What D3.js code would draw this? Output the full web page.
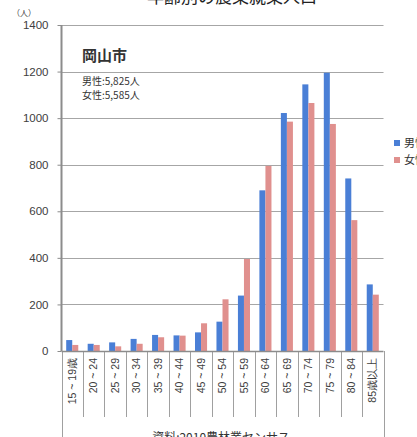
<!DOCTYPE html>
<html>
<head>
<meta charset="utf-8">
<script src="https://cdn.jsdelivr.net/npm/d3@7"></script>
<style>
  body { margin: 0; background: #fff; }
  svg { display: block; font-family: "Noto Sans CJK JP", "Noto Sans", sans-serif; }
</style>
</head>
<body>
<div class="chart"></div>
<script>
// age groups and counts (persons)
var ageGroups = ["15 ~ 19歳", "20 ~ 24", "25 ~ 29", "30 ~ 34", "35 ~ 39", "40 ~ 44", "45 ~ 49",
  "50 ~ 54", "55 ~ 59", "60 ~ 64", "65 ~ 69", "70 ~ 74", "75 ~ 79", "80 ~ 84", "85歳以上"];
var seriesNames = ["男性", "女性"];
var maleValues = [47, 31, 37, 52, 69, 67, 80, 126, 238, 690, 1022, 1145, 1195, 741, 286];
var femaleValues = [26, 26, 20, 31, 59, 66, 119, 222, 395, 795, 985, 1065, 975, 562, 242];
var yTicks = [0, 200, 400, 600, 800, 1000, 1200, 1400];
var colors = ["#4a7fd6", "#e0908e"];

var svgWidth = 417;
var svgHeight = 437;

var margin = { top: 25, left: 61.5, right: 33.5, bottom: 86 };
var plotRight = svgWidth - margin.right;
var plotBottom = svgHeight - margin.bottom;

var svg = d3.select(".chart")
  .append("svg")
  .attr("width", svgWidth)
  .attr("height", svgHeight);

var x = d3.scaleBand()
  .domain(ageGroups)
  .range([margin.left, plotRight])
  .padding(0);

var inner = 4.7;
var x1 = d3.scaleBand()
  .domain(seriesNames)
  .range([inner, x.bandwidth() - inner])
  .padding(0);

var y = d3.scaleLinear()
  .domain([0, 1400])
  .range([plotBottom, margin.top]);

// gridlines + y axis
var leftAxis = d3.axisLeft(y)
  .tickValues(yTicks)
  .tickFormat(d3.format("d"))
  .tickSize(4)
  .tickPadding(9);

var yAxis = svg.append("g")
  .attr("transform", `translate(${margin.left}, 0)`)
  .call(leftAxis);
yAxis.select(".domain").remove();
yAxis.selectAll(".tick line").attr("stroke", "#8c8c8c");
yAxis.selectAll(".tick text")
  .attr("fill", "#404040")
  .style("font-family", "'Liberation Sans', Arial, sans-serif")
  .style("font-size", "11.5px");

svg.append("g")
  .selectAll("line")
  .data(yTicks.filter(d => d > 0))
  .enter()
  .append("line")
  .attr("x1", margin.left)
  .attr("x2", plotRight)
  .attr("y1", d => Math.round(y(d)) + 0.5)
  .attr("y2", d => Math.round(y(d)) + 0.5)
  .attr("stroke", "#a6a6a6")
  .attr("stroke-width", 1.2);

// bars
var rows = ageGroups.map((g, i) => ({ group: g, values: [maleValues[i], femaleValues[i]] }));

var groups = svg.append("g")
  .selectAll("g")
  .data(rows)
  .enter()
  .append("g")
  .attr("transform", d => `translate(${x(d.group)}, 0)`);

groups.selectAll("rect")
  .data(d => d.values.map((v, k) => ({ key: seriesNames[k], value: v, k: k })))
  .enter()
  .append("rect")
  .attr("x", d => x1(d.key))
  .attr("width", x1.bandwidth())
  .attr("y", d => y(d.value))
  .attr("height", d => y(0) - y(d.value))
  .attr("fill", d => colors[d.k]);

// x axis with category separators
var bottomAxis = d3.axisBottom(x).tickSize(0).tickPadding(0);
var xAxis = svg.append("g")
  .attr("transform", `translate(0, ${plotBottom})`)
  .call(bottomAxis);
xAxis.select(".domain").remove();
xAxis.selectAll(".tick text")
  .attr("transform", "rotate(-90)")
  .attr("text-anchor", "end")
  .attr("x", -7)
  .attr("y", 0)
  .attr("dy", "0.35em")
  .attr("fill", "#404040")
  .style("font-size", "10.5px");

var edges = ageGroups.map(g => x(g)).concat([plotRight]);
svg.append("g")
  .selectAll("line")
  .data(edges)
  .enter()
  .append("line")
  .attr("x1", d => Math.round(d) + 0.5)
  .attr("x2", d => Math.round(d) + 0.5)
  .attr("y1", plotBottom)
  .attr("y2", (d, i) => (i === 0 || i === edges.length - 1) ? svgHeight : 417)
  .attr("stroke", "#a0a0a0")
  .attr("stroke-width", 1);

// axis lines
svg.append("line")
  .attr("x1", margin.left).attr("x2", plotRight)
  .attr("y1", plotBottom + 0.5).attr("y2", plotBottom + 0.5)
  .attr("stroke", "#8c8c8c").attr("stroke-width", 1.5);
svg.append("line")
  .attr("x1", margin.left).attr("x2", margin.left)
  .attr("y1", margin.top).attr("y2", plotBottom)
  .attr("stroke", "#8c8c8c").attr("stroke-width", 2);

// unit label
svg.append("text")
  .attr("x", 12).attr("y", 16)
  .attr("fill", "#404040")
  .style("font-size", "8px")
  .text("（人）");

// title (cropped at top, as in the source image)
svg.append("text")
  .attr("x", 232).attr("y", 3)
  .attr("text-anchor", "middle")
  .attr("fill", "#222")
  .style("font-size", "17px")
  .text("年齢別の農業就業人口");

// inner annotations
svg.append("text")
  .attr("x", 82).attr("y", 61)
  .attr("fill", "#333")
  .style("font-size", "15px")
  .style("font-weight", "bold")
  .text("岡山市");

svg.append("text")
  .attr("x", 82).attr("y", 85)
  .attr("fill", "#333")
  .style("font-size", "10px")
  .text("男性:5,825人");

svg.append("text")
  .attr("x", 82).attr("y", 99)
  .attr("fill", "#333")
  .style("font-size", "10px")
  .text("女性:5,585人");

// legend (cut off on the right)
var legend = svg.append("g")
  .selectAll("g")
  .data(seriesNames)
  .enter()
  .append("g")
  .attr("transform", (d, i) => `translate(394, ${140 + i * 17})`);

legend.append("rect")
  .attr("width", 6).attr("height", 6)
  .attr("fill", (d, i) => colors[i]);

legend.append("text")
  .attr("x", 10).attr("y", 7)
  .attr("fill", "#333")
  .style("font-size", "11px")
  .text(d => d);

// source
svg.append("text")
  .attr("x", 221).attr("y", 442)
  .attr("text-anchor", "middle")
  .attr("fill", "#333")
  .style("font-size", "12px")
  .text("資料:2010農林業センサス");
</script>
</body>
</html>
